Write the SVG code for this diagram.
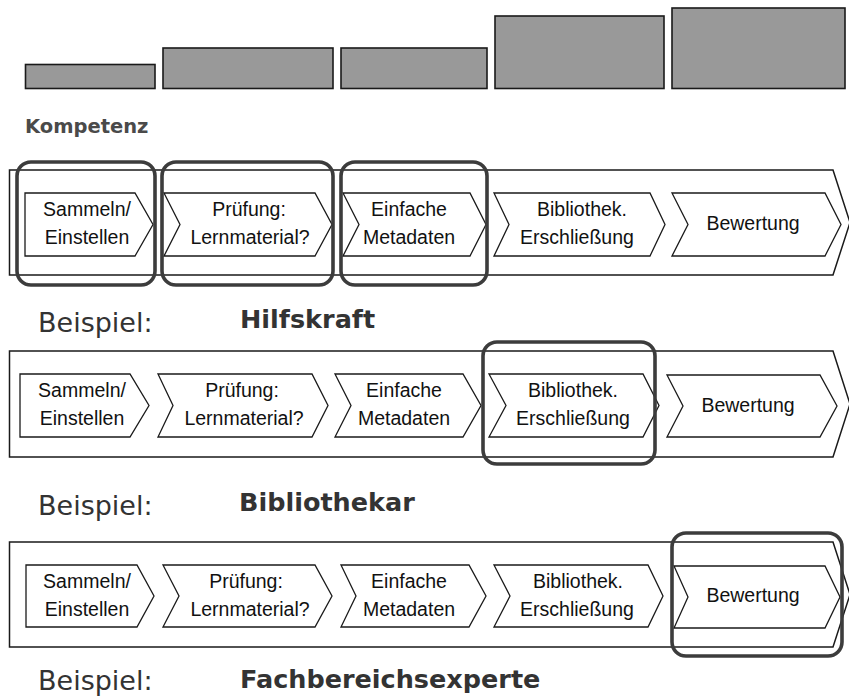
<svg xmlns="http://www.w3.org/2000/svg" width="849" height="696" viewBox="0 0 849 696">
<style>
.bar{fill:#999;stroke:#1a1a1a;stroke-width:1.6}
.frame{fill:#fff;stroke:#1a1a1a;stroke-width:1.5}
.chev{fill:#fff;stroke:#1a1a1a;stroke-width:1.3}
.hl{fill:none;stroke:#3c3c3c;stroke-width:3.6}
.t{font-family:"Liberation Sans",Arial,sans-serif;font-size:19.5px;fill:#111;text-anchor:middle}
.bsp{font-family:"DejaVu Sans",sans-serif;font-size:27px;fill:#333}
.role{font-family:"DejaVu Sans",sans-serif;font-weight:bold;font-size:25.5px;fill:#333}
.komp{font-family:"DejaVu Sans",sans-serif;font-weight:bold;font-size:19.5px;fill:#4a4a4a}
</style>
<rect width="849" height="696" fill="#fff"/>
<g id="bars">
<rect class="bar" x="25.5" y="64.5" width="129.5" height="24"/>
<rect class="bar" x="163" y="48" width="170" height="40.5"/>
<rect class="bar" x="341" y="48" width="146" height="40.5"/>
<rect class="bar" x="495" y="16" width="169" height="72.5"/>
<rect class="bar" x="672" y="8" width="173" height="80.5"/>
</g>
<text id="kompetenz" class="komp" x="25" y="133">Kompetenz</text>
<g id="connectors"/>

<g id="row1">
<polygon class="frame" points="9.5,170 833,170 850,222.5 833,275 9.5,275"/>
<g id="r1-sammeln"><polygon class="chev" points="25,193 135,193 153,224.5 135,256 25,256"/><text class="t" x="87" y="216">Sammeln/</text><text class="t" x="87" y="244">Einstellen</text></g>
<g id="r1-pruefung"><polygon class="chev" points="164,193 315,193 332,224.5 315,256 164,256 180,224.5"/><text class="t" x="249" y="216">Prüfung:</text><text class="t" x="250" y="244">Lernmaterial?</text></g>
<g id="r1-metadaten"><polygon class="chev" points="343,193 470,193 486,224.5 470,256 343,256 359,224.5"/><text class="t" x="409" y="216">Einfache</text><text class="t" x="409" y="244">Metadaten</text></g>
<g id="r1-bibliothek"><polygon class="chev" points="494,193 650,193 665,224.5 650,256 494,256 509,224.5"/><text class="t" x="582" y="216">Bibliothek.</text><text class="t" x="577" y="244">Erschließung</text></g>
<g id="r1-bewertung"><polygon class="chev" points="672,193 825,193 841,224.5 825,256 672,256 688,224.5"/><text class="t" x="753" y="230">Bewertung</text></g>
<rect class="hl" x="17" y="162" width="138" height="123" rx="14"/>
<rect class="hl" x="162" y="162" width="171" height="123" rx="14"/>
<rect class="hl" x="341" y="162" width="146" height="123" rx="14"/>
</g>
<text class="bsp" x="38" y="332">Beispiel:</text>
<text class="role" x="240" y="328">Hilfskraft</text>

<g id="row2">
<polygon class="frame" points="9.5,351 833,351 850,404 833,457 9.5,457"/>
<g id="r2-sammeln"><polygon class="chev" points="20,374 130,374 149,405.5 130,437 20,437"/><text class="t" x="82" y="397">Sammeln/</text><text class="t" x="82" y="425">Einstellen</text></g>
<g id="r2-pruefung"><polygon class="chev" points="158,374 312,374 328,405.5 312,437 158,437 173,405.5"/><text class="t" x="242" y="397">Prüfung:</text><text class="t" x="244" y="425">Lernmaterial?</text></g>
<g id="r2-metadaten"><polygon class="chev" points="335,374 463,374 481,405.5 463,437 335,437 351,405.5"/><text class="t" x="404" y="397">Einfache</text><text class="t" x="404" y="425">Metadaten</text></g>
<g id="r2-bibliothek"><polygon class="chev" points="489,374 643,374 659,405.5 643,437 489,437 506,405.5"/><text class="t" x="573" y="397">Bibliothek.</text><text class="t" x="573" y="425">Erschließung</text></g>
<g id="r2-bewertung"><polygon class="chev" points="667,375 820,375 837,406 820,437 667,437 683,406"/><text class="t" x="748" y="412">Bewertung</text></g>
<rect class="hl" x="483" y="342" width="172" height="122" rx="14"/>
</g>
<text class="bsp" x="38" y="515">Beispiel:</text>
<text class="role" x="239" y="511">Bibliothekar</text>

<g id="row3">
<polygon class="frame" points="9.5,542 833,542 850,594.5 833,647 9.5,647"/>
<g id="r3-sammeln"><polygon class="chev" points="26,565 137,565 154,596 137,627 26,627"/><text class="t" x="87" y="587.5">Sammeln/</text><text class="t" x="87" y="615.5">Einstellen</text></g>
<g id="r3-pruefung"><polygon class="chev" points="163,565 315,565 332,596 315,627 163,627 179,596"/><text class="t" x="246" y="587.5">Prüfung:</text><text class="t" x="250" y="615.5">Lernmaterial?</text></g>
<g id="r3-metadaten"><polygon class="chev" points="341,565 469,565 486,596 469,627 341,627 356,596"/><text class="t" x="409" y="587.5">Einfache</text><text class="t" x="409" y="615.5">Metadaten</text></g>
<g id="r3-bibliothek"><polygon class="chev" points="494,565 648,565 663,596 648,627 494,627 510,596"/><text class="t" x="578" y="587.5">Bibliothek.</text><text class="t" x="577" y="615.5">Erschließung</text></g>
<g id="r3-bewertung"><polygon class="chev" points="674,566 825,566 840,597 825,628 674,628 688,597"/><text class="t" x="753" y="602">Bewertung</text></g>
<rect class="hl" x="672" y="533" width="170" height="123" rx="14"/>
</g>
<text class="bsp" x="38" y="690">Beispiel:</text>
<text class="role" x="240" y="688">Fachbereichsexperte</text>
</svg>
